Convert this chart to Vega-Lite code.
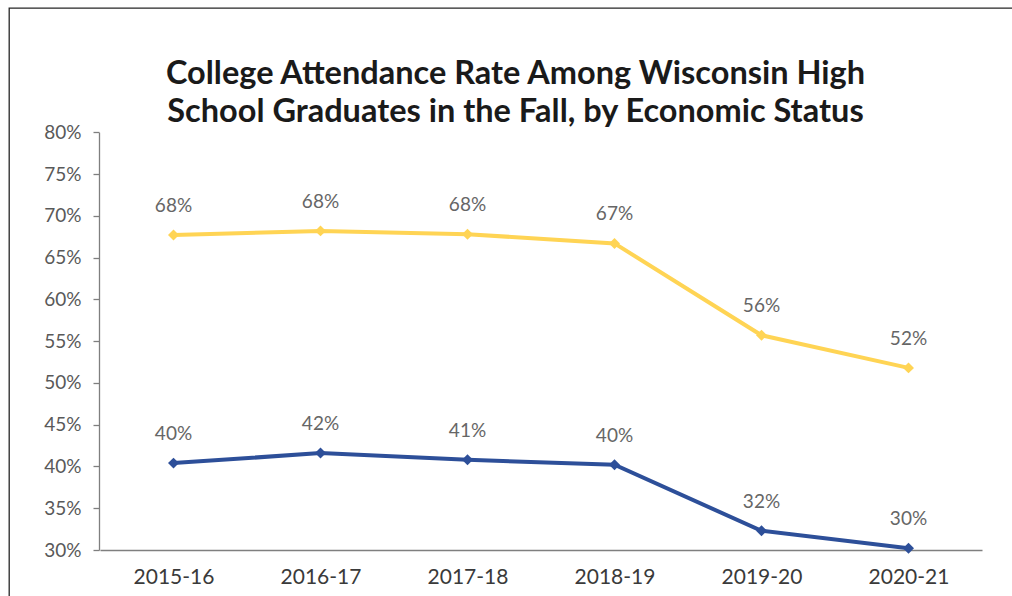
{
  "$schema": "https://vega.github.io/schema/vega-lite/v6.json",
  "autosize": {"type": "none"},
  "padding": {"left": 9, "top": 8, "right": 0, "bottom": 0},
  "width": 1003,
  "height": 588,
  "background": "white",
  "config": {
    "font": "Lato",
    "view": {"stroke": "#262626", "strokeWidth": 1.3, "strokeDash": [1003, 1591, 588]}
  },
  "title": {
    "text": ["College Attendance Rate Among Wisconsin High", "School Graduates in the Fall, by Economic Status"],
    "font": "Lato",
    "fontSize": 32.5,
    "fontWeight": "bold",
    "color": "#1a1a1a",
    "anchor": "middle",
    "baseline": "top",
    "offset": -120,
    "dx": 5,
    "lineHeight": 38
  },
  "data": {
    "values": [
      {"year": "2015-16", "status": "Not economically disadvantaged", "rate": 0.677},
      {"year": "2016-17", "status": "Not economically disadvantaged", "rate": 0.682},
      {"year": "2017-18", "status": "Not economically disadvantaged", "rate": 0.678},
      {"year": "2018-19", "status": "Not economically disadvantaged", "rate": 0.667},
      {"year": "2019-20", "status": "Not economically disadvantaged", "rate": 0.557},
      {"year": "2020-21", "status": "Not economically disadvantaged", "rate": 0.518},
      {"year": "2015-16", "status": "Economically disadvantaged", "rate": 0.404},
      {"year": "2016-17", "status": "Economically disadvantaged", "rate": 0.416},
      {"year": "2017-18", "status": "Economically disadvantaged", "rate": 0.408},
      {"year": "2018-19", "status": "Economically disadvantaged", "rate": 0.402},
      {"year": "2019-20", "status": "Economically disadvantaged", "rate": 0.323},
      {"year": "2020-21", "status": "Economically disadvantaged", "rate": 0.302}
    ]
  },
  "encoding": {
    "x": {
      "field": "year",
      "type": "ordinal",
      "scale": {"type": "point", "range": [91, 973], "padding": 0.5},
      "axis": {
        "title": null,
        "labelAngle": 0,
        "ticks": false,
        "domainColor": "#7f7f7f",
        "domainWidth": 1.3,
        "labelColor": "#3a3a3a",
        "labelFont": "Lato",
        "labelFontSize": 21,
        "labelPadding": 16,
        "offset": -46
      }
    },
    "y": {
      "field": "rate",
      "type": "quantitative",
      "scale": {"domain": [0.3, 0.8], "range": [542, 124.3], "zero": false, "nice": false},
      "axis": {
        "title": null,
        "values": [0.3, 0.35, 0.4, 0.45, 0.5, 0.55, 0.6, 0.65, 0.7, 0.75, 0.8],
        "format": ".0%",
        "grid": false,
        "domainColor": "#7f7f7f",
        "domainWidth": 1.3,
        "tickColor": "#7f7f7f",
        "tickSize": 6,
        "tickWidth": 1.3,
        "labelColor": "#595959",
        "labelFont": "Lato",
        "labelFontSize": 19,
        "labelPadding": 12,
        "offset": -90
      }
    },
    "color": {
      "field": "status",
      "type": "nominal",
      "scale": {"domain": ["Not economically disadvantaged", "Economically disadvantaged"], "range": ["#FFD454", "#2D4F99"]},
      "legend": null
    }
  },
  "layer": [
    {"mark": {"type": "line", "interpolate": "linear", "strokeWidth": 4}},
    {"mark": {"type": "point", "shape": "diamond", "filled": true, "opacity": 1, "size": 120}},
    {
      "mark": {"type": "text", "dy": -29, "font": "Lato", "fontSize": 19, "color": "#666666"},
      "encoding": {
        "text": {"field": "rate", "type": "quantitative", "format": ".0%"},
        "color": {"value": "#666666"}
      }
    }
  ]
}
